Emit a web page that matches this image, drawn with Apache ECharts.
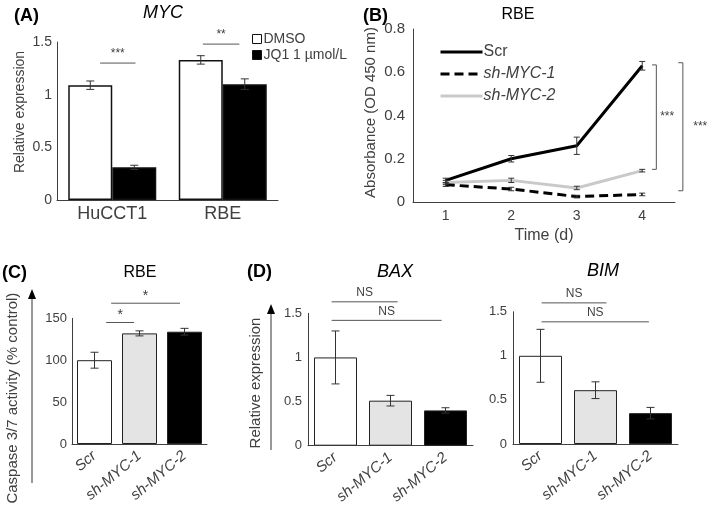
<!DOCTYPE html>
<html><head><meta charset="utf-8">
<script src="https://cdn.jsdelivr.net/npm/echarts@6/dist/echarts.min.js"></script>
<style>html,body{margin:0;padding:0;background:#fff}#c{width:709px;height:517px}</style>
</head><body><div id="c"></div>
<script>
// ---------- Panel A: MYC expression ----------
const aCategories = ['HuCCT1', 'RBE'];
const aDMSO = [1.09, 1.33];
const aDMSOErr = [0.04, 0.04];
const aJQ1 = [0.31, 1.10];
const aJQ1Err = [0.02, 0.05];
const aSig = [
  {x0: -0.11, x1: 0.21, y: 1.30, text: '***'},
  {x0: 0.82, x1: 1.15, y: 1.48, text: '**'}
];
// ---------- Panel B: RBE absorbance ----------
const bDays = ['1', '2', '3', '4'];
const bScr = [0.10, 0.20, 0.26, 0.63];
const bScrErr = [0.01, 0.015, 0.04, 0.02];
const bSh1 = [0.08, 0.06, 0.025, 0.035];
const bSh1Err = [0.008, 0.008, 0.006, 0.006];
const bSh2 = [0.09, 0.10, 0.065, 0.145];
const bSh2Err = [0.01, 0.01, 0.008, 0.006];
const bBrackets = [
  {xTick: 3.15, xBar: 3.215, yTop: 0.634, yBot: 0.151, xText: 3.38, text: '***'},
  {xTick: 3.55, xBar: 3.62, yTop: 0.644, yBot: 0.052, xText: 3.885, text: '***'}
];
// ---------- Panels C / D ----------
const shCategories = ['Scr', 'sh-MYC-1', 'sh-MYC-2'];
const cCaspase = [100, 132, 134];
const cCaspaseErr = [9.5, 3, 4];
const cSig = [
  {x0: 0.26, x1: 0.88, y: 145, text: '*'},
  {x0: 0.37, x1: 1.90, y: 168, text: '*'}
];
const dBAX = [1.0, 0.51, 0.40];
const dBAXErr = [0.30, 0.06, 0.03];
const dBAXSig = [
  {x0: -0.07, x1: 1.13, y: 1.63, text: 'NS'},
  {x0: -0.07, x1: 1.93, y: 1.42, text: 'NS'}
];
const dBIM = [1.0, 0.61, 0.35];
const dBIMErr = [0.30, 0.095, 0.065];
const dBIMSig = [
  {x0: 0.02, x1: 1.20, y: 1.60, text: 'NS'},
  {x0: 0.02, x1: 1.97, y: 1.385, text: 'NS'}
];

// ---------- styles ----------
const FONT = "'Liberation Sans', Arial, sans-serif";
const TXT = '#404040';
const AXIS = '#3f3f3f';
const groupColors = ['#ffffff', '#e4e4e4', '#000000'];

function errRender(offsetPx, cap) {
  return function (params, api) {
    const x = api.value(0), v = api.value(1), e = api.value(2);
    const t = api.coord([x, v + e]);
    const b = api.coord([x, v - e]);
    const cx = t[0] + offsetPx;
    const st = {stroke: '#333', lineWidth: 1, fill: null};
    return {type: 'group', children: [
      {type: 'line', shape: {x1: cx, y1: t[1], x2: cx, y2: b[1]}, style: st},
      {type: 'line', shape: {x1: cx - cap, y1: t[1], x2: cx + cap, y2: t[1]}, style: st},
      {type: 'line', shape: {x1: cx - cap, y1: b[1], x2: cx + cap, y2: b[1]}, style: st}
    ]};
  };
}
function sigRender(list, fontSize, gap) {
  return function (params, api) {
    const s = list[params.dataIndex];
    const base = api.coord([0, s.y]);
    const band = api.size([1, 0])[0];
    const x0 = base[0] + s.x0 * band, x1 = base[0] + s.x1 * band;
    return {type: 'group', children: [
      {type: 'line', shape: {x1: x0, y1: base[1], x2: x1, y2: base[1]}, style: {stroke: '#555', lineWidth: 1}},
      {type: 'text', style: {text: s.text, x: (x0 + x1) / 2, y: base[1] - gap, align: 'center', verticalAlign: 'bottom',
        font: fontSize + 'px ' + FONT, fill: TXT}}
    ]};
  };
}
function bracketRender(list) {
  return function (params, api) {
    const s = list[params.dataIndex];
    const c0 = api.coord([0, s.yTop]);
    const c1 = api.coord([0, s.yBot]);
    const band = api.size([1, 0])[0];
    const xt = c0[0] + s.xTick * band, xb = c0[0] + s.xBar * band, xx = c0[0] + s.xText * band;
    return {type: 'group', children: [
      {type: 'polyline', shape: {points: [[xt, c0[1]], [xb, c0[1]], [xb, c1[1]], [xt, c1[1]]]},
        style: {stroke: '#555', lineWidth: 1, fill: null}},
      {type: 'text', style: {text: s.text, x: xx, y: (c0[1] + c1[1]) / 2, align: 'center', verticalAlign: 'middle',
        font: '12px ' + FONT, fill: TXT}}
    ]};
  };
}
const errData = (vals, errs) => vals.map((v, i) => [i, v, errs[i]]);
const annData = (list, key) => list.map(s => [0, s[key]]);

function catAxis(gridIndex, data, extra) {
  return Object.assign({
    type: 'category', gridIndex, data,
    axisTick: {show: false},
    axisLine: {lineStyle: {color: AXIS, width: 1}},
    splitLine: {show: false}
  }, extra);
}
function valAxis(gridIndex, min, max, interval, extra) {
  return Object.assign({
    type: 'value', gridIndex, min, max, interval,
    axisTick: {show: false},
    axisLine: {show: true, lineStyle: {color: AXIS, width: 1}},
    splitLine: {show: false}
  }, extra);
}
const rotLabel = {rotate: 40, fontStyle: 'italic', fontSize: 15, margin: 10, color: TXT, fontFamily: FONT};
function groupBars(vals) {
  return vals.map((v, i) => ({value: v, itemStyle: {color: groupColors[i]}}));
}

const option = {
  animation: false,
  backgroundColor: '#fff',
  textStyle: {fontFamily: FONT},
  grid: [
    {left: 57, top: 42, width: 221, height: 158},
    {left: 413, top: 29, width: 262, height: 173},
    {left: 72, top: 318.3, width: 135, height: 125.7},
    {left: 308, top: 313.3, width: 165, height: 132.4},
    {left: 513, top: 311.7, width: 165, height: 132.3}
  ],
  xAxis: [
    catAxis(0, aCategories, {axisLabel: {fontSize: 18, margin: 5, color: TXT, fontFamily: FONT}}),
    catAxis(1, bDays, {axisLabel: {fontSize: 14, margin: 7, color: TXT, fontFamily: FONT},
      name: 'Time (d)', nameLocation: 'middle', nameGap: 26,
      nameTextStyle: {fontSize: 16, color: TXT, fontFamily: FONT}}),
    catAxis(2, shCategories, {axisLabel: rotLabel}),
    catAxis(3, shCategories, {axisLabel: rotLabel}),
    catAxis(4, shCategories, {axisLabel: rotLabel})
  ],
  yAxis: [
    valAxis(0, 0, 1.5, 0.5, {axisLabel: {fontSize: 14, margin: 5, color: TXT, fontFamily: FONT},
      name: 'Relative expression', nameLocation: 'middle', nameGap: 30,
      nameTextStyle: {fontSize: 14, color: TXT, fontFamily: FONT, padding: [0, 0, 0, 18]}}),
    valAxis(1, 0, 0.8, 0.2, {axisLabel: {fontSize: 15, margin: 8, color: TXT, fontFamily: FONT},
      name: 'Absorbance (OD 450 nm)', nameLocation: 'middle', nameGap: 35,
      nameTextStyle: {fontSize: 15, color: TXT, fontFamily: FONT, padding: [0, 0, 0, 6]}}),
    valAxis(2, 0, 150, 50, {axisLabel: {fontSize: 13, margin: 5, color: TXT, fontFamily: FONT},
      name: 'Caspase 3/7 activity (% control)', nameLocation: 'middle', nameGap: 52,
      nameTextStyle: {fontSize: 15, color: TXT, fontFamily: FONT, padding: [0, 34, 0, 0]}}),
    valAxis(3, 0, 1.5, 0.5, {axisLabel: {fontSize: 13, margin: 6, color: TXT, fontFamily: FONT},
      name: 'Relative expression', nameLocation: 'middle', nameGap: 45,
      nameTextStyle: {fontSize: 15, color: TXT, fontFamily: FONT, padding: [0, 7, 0, 0]}}),
    valAxis(4, 0, 1.5, 0.5, {axisLabel: {fontSize: 13, margin: 6, color: TXT, fontFamily: FONT}})
  ],
  legend: [
    {data: ['DMSO', 'JQ1 1 µmol/L'], orient: 'vertical', left: 247, top: 27, icon: 'rect',
      itemWidth: 9, itemHeight: 9, itemGap: 2,
      itemStyle: {borderWidth: 1},
      textStyle: {fontSize: 14, color: TXT, fontFamily: FONT, padding: [0, 0, 0, -3]}},
    {data: ['Scr', 'sh-MYC-1', 'sh-MYC-2'], orient: 'vertical', left: 434, top: 39,
      itemWidth: 42, itemHeight: 12, itemGap: 6,
      itemStyle: {opacity: 0},
      lineStyle: {width: 3},
      formatter: n => n === 'Scr' ? '{n|' + n + '}' : '{i|' + n + '}',
      textStyle: {color: TXT, fontFamily: FONT, padding: [0, 0, 0, -4],
        rich: {n: {fontSize: 16, color: TXT, fontFamily: FONT}, i: {fontSize: 16, fontStyle: 'italic', color: TXT, fontFamily: FONT}}}}
  ],
  graphic: [
    {type: 'text', style: {text: '(A)', x: 14, y: 16, verticalAlign: 'middle', font: 'bold 18px ' + FONT, fill: '#000'}},
    {type: 'text', style: {text: 'MYC', x: 163, y: 13, align: 'center', verticalAlign: 'middle', font: 'italic 18px ' + FONT, fill: '#000'}},
    {type: 'text', style: {text: '(B)', x: 363, y: 16, verticalAlign: 'middle', font: 'bold 18px ' + FONT, fill: '#000'}},
    {type: 'text', style: {text: 'RBE', x: 518, y: 15, align: 'center', verticalAlign: 'middle', font: '16px ' + FONT, fill: '#000'}},
    {type: 'text', style: {text: '(C)', x: 2, y: 273, verticalAlign: 'middle', font: 'bold 18px ' + FONT, fill: '#000'}},
    {type: 'text', style: {text: 'RBE', x: 140, y: 273, align: 'center', verticalAlign: 'middle', font: '16px ' + FONT, fill: '#000'}},
    {type: 'text', style: {text: '(D)', x: 247, y: 272, verticalAlign: 'middle', font: 'bold 18px ' + FONT, fill: '#000'}},
    {type: 'text', style: {text: 'BAX', x: 395, y: 272, align: 'center', verticalAlign: 'middle', font: 'italic 18px ' + FONT, fill: '#000'}},
    {type: 'text', style: {text: 'BIM', x: 603, y: 271, align: 'center', verticalAlign: 'middle', font: 'italic 18px ' + FONT, fill: '#000'}},
    // arrows beside y-axis titles
    {type: 'line', shape: {x1: 32, y1: 483, x2: 32, y2: 297}, style: {stroke: '#333', lineWidth: 1}},
    {type: 'polygon', shape: {points: [[32, 289], [28, 299], [36, 299]]}, style: {fill: '#000'}},
    {type: 'line', shape: {x1: 271, y1: 450, x2: 271, y2: 312}, style: {stroke: '#333', lineWidth: 1}},
    {type: 'polygon', shape: {points: [[271, 304], [267, 314], [275, 314]]}, style: {fill: '#000'}}
  ],
  series: [
    // A
    {name: 'DMSO', type: 'bar', xAxisIndex: 0, yAxisIndex: 0, data: aDMSO, barWidth: 44, barGap: '0%',
      itemStyle: {color: '#fff', borderColor: '#111', borderWidth: 1.5}},
    {name: 'JQ1 1 µmol/L', type: 'bar', xAxisIndex: 0, yAxisIndex: 0, data: aJQ1, barWidth: 44, barGap: '0%',
      itemStyle: {color: '#000', borderColor: '#111', borderWidth: 1.5}},
    {type: 'custom', xAxisIndex: 0, yAxisIndex: 0, data: errData(aDMSO, aDMSOErr), renderItem: errRender(-22, 4), z: 5},
    {type: 'custom', xAxisIndex: 0, yAxisIndex: 0, data: errData(aJQ1, aJQ1Err), renderItem: errRender(22, 4), z: 5},
    {type: 'custom', xAxisIndex: 0, yAxisIndex: 0, data: annData(aSig, 'y'), renderItem: sigRender(aSig, 12, 3), z: 5},
    // B
    {name: 'Scr', type: 'line', xAxisIndex: 1, yAxisIndex: 1, data: bScr, symbol: 'none',
      lineStyle: {color: '#000', width: 3}, itemStyle: {color: '#000'}, z: 4},
    {name: 'sh-MYC-1', type: 'line', xAxisIndex: 1, yAxisIndex: 1, data: bSh1, symbol: 'none',
      lineStyle: {color: '#000', width: 3, type: [9, 5]}, itemStyle: {color: '#000'}, z: 3},
    {name: 'sh-MYC-2', type: 'line', xAxisIndex: 1, yAxisIndex: 1, data: bSh2, symbol: 'none',
      lineStyle: {color: '#c9c9c9', width: 3}, itemStyle: {color: '#c9c9c9'}, z: 2},
    {type: 'custom', xAxisIndex: 1, yAxisIndex: 1, data: errData(bScr, bScrErr), renderItem: errRender(0, 3), z: 5},
    {type: 'custom', xAxisIndex: 1, yAxisIndex: 1, data: errData(bSh1, bSh1Err), renderItem: errRender(0, 3), z: 5},
    {type: 'custom', xAxisIndex: 1, yAxisIndex: 1, data: errData(bSh2, bSh2Err), renderItem: errRender(0, 3), z: 5},
    {type: 'custom', xAxisIndex: 1, yAxisIndex: 1, data: annData(bBrackets, 'yTop'), renderItem: bracketRender(bBrackets), z: 5},
    // C
    {type: 'bar', xAxisIndex: 2, yAxisIndex: 2, data: groupBars(cCaspase), barWidth: 35,
      itemStyle: {borderColor: '#222', borderWidth: 1}},
    {type: 'custom', xAxisIndex: 2, yAxisIndex: 2, data: errData(cCaspase, cCaspaseErr), renderItem: errRender(0, 4), z: 5},
    {type: 'custom', xAxisIndex: 2, yAxisIndex: 2, data: annData(cSig, 'y'), renderItem: sigRender(cSig, 14, 0), z: 5},
    // D BAX
    {type: 'bar', xAxisIndex: 3, yAxisIndex: 3, data: groupBars(dBAX), barWidth: 43,
      itemStyle: {borderColor: '#222', borderWidth: 1}},
    {type: 'custom', xAxisIndex: 3, yAxisIndex: 3, data: errData(dBAX, dBAXErr), renderItem: errRender(0, 4), z: 5},
    {type: 'custom', xAxisIndex: 3, yAxisIndex: 3, data: annData(dBAXSig, 'y'), renderItem: sigRender(dBAXSig, 12, 3), z: 5},
    // D BIM
    {type: 'bar', xAxisIndex: 4, yAxisIndex: 4, data: groupBars(dBIM), barWidth: 43,
      itemStyle: {borderColor: '#222', borderWidth: 1}},
    {type: 'custom', xAxisIndex: 4, yAxisIndex: 4, data: errData(dBIM, dBIMErr), renderItem: errRender(0, 4), z: 5},
    {type: 'custom', xAxisIndex: 4, yAxisIndex: 4, data: annData(dBIMSig, 'y'), renderItem: sigRender(dBIMSig, 12, 3), z: 5}
  ]
};
const chart = echarts.init(document.getElementById('c'), null, {renderer: 'canvas'});
chart.setOption(option);
</script>
</body></html>
